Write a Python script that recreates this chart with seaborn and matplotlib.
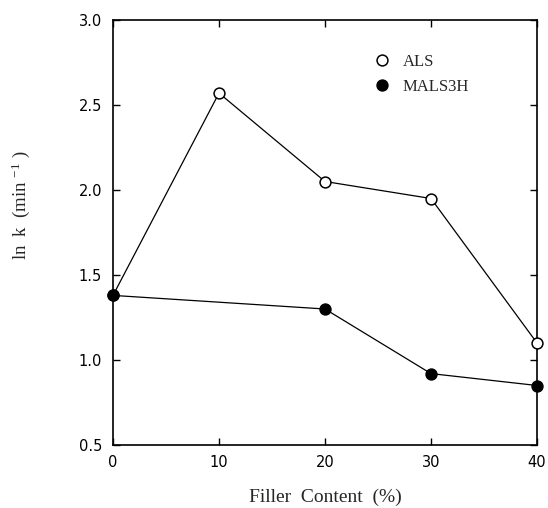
import matplotlib
matplotlib.use("Agg")
import matplotlib.pyplot as plt
from matplotlib.lines import Line2D
import seaborn as sns
import pandas as pd

# Data
als_x = [0, 10, 20, 30, 40]
als_y = [1.38, 2.57, 2.05, 1.95, 1.10]
mals_x = [0, 20, 30, 40]
mals_y = [1.38, 1.30, 0.92, 0.85]
series_names = ["ALS", "MALS3H"]
x_ticks = [0, 10, 20, 30, 40]
y_ticks = [0.5, 1.0, 1.5, 2.0, 2.5, 3.0]

sns.set_theme(style="ticks")
plt.rcParams["font.family"] = ["Liberation Serif", "DejaVu Serif"]
plt.rcParams["mathtext.default"] = "regular"

df_als = pd.DataFrame({"x": als_x, "y": als_y})
df_mals = pd.DataFrame({"x": mals_x, "y": mals_y})

fig = plt.figure(figsize=(5.48, 5.08), dpi=100)
ax = fig.add_axes([113 / 548, 1 - 445 / 508, (537 - 113) / 548, (445 - 20) / 508])

sns.lineplot(data=df_als, x="x", y="y", ax=ax, color="black", lw=0.9,
             marker="o", markersize=7.8, markerfacecolor="white",
             markeredgecolor="black", markeredgewidth=1.1, clip_on=False, zorder=3)
sns.lineplot(data=df_mals, x="x", y="y", ax=ax, color="black", lw=0.9,
             marker="o", markersize=7.8, markerfacecolor="black",
             markeredgecolor="black", markeredgewidth=1.1, clip_on=False, zorder=4)

ax.set_xlim(0, 40)
ax.set_ylim(0.5, 3.0)
ax.set_xticks(x_ticks)
ax.set_yticks(y_ticks)
ax.set_xticklabels([str(v) for v in x_ticks])
ax.set_yticklabels([f"{v:.1f}" for v in y_ticks])

for s in ax.spines.values():
    s.set_visible(True)
    s.set_linewidth(1.2)
    s.set_color("black")

ax.tick_params(axis="both", which="major", direction="in", length=5, width=1,
               top=True, right=True, color="black", labelcolor="black",
               labelsize=10.5)
ax.tick_params(axis="x", pad=7)
ax.tick_params(axis="y", pad=8)
for lab in ax.get_xticklabels() + ax.get_yticklabels():
    lab.set_fontfamily(["DejaVu Sans"])

ax.set_xlabel("Filler  Content  (%)", fontsize=14, labelpad=14)
ax.set_ylabel("ln  k  (min $^{-1}$ )", fontsize=13.5)
ax.yaxis.set_label_coords(-0.19, 0.565)

handles = [
    Line2D([], [], ls="none", marker="o", markersize=7.8, markerfacecolor="white",
           markeredgecolor="black", markeredgewidth=1.1),
    Line2D([], [], ls="none", marker="o", markersize=7.8, markerfacecolor="black",
           markeredgecolor="black", markeredgewidth=1.1),
]
ax.legend(handles, series_names, loc="upper left", bbox_to_anchor=(0.6, 0.935),
          frameon=False, fontsize=12, handlelength=1.0, handletextpad=0.7,
          labelspacing=0.5, borderaxespad=0)

fig.savefig("out.png", dpi=100)
